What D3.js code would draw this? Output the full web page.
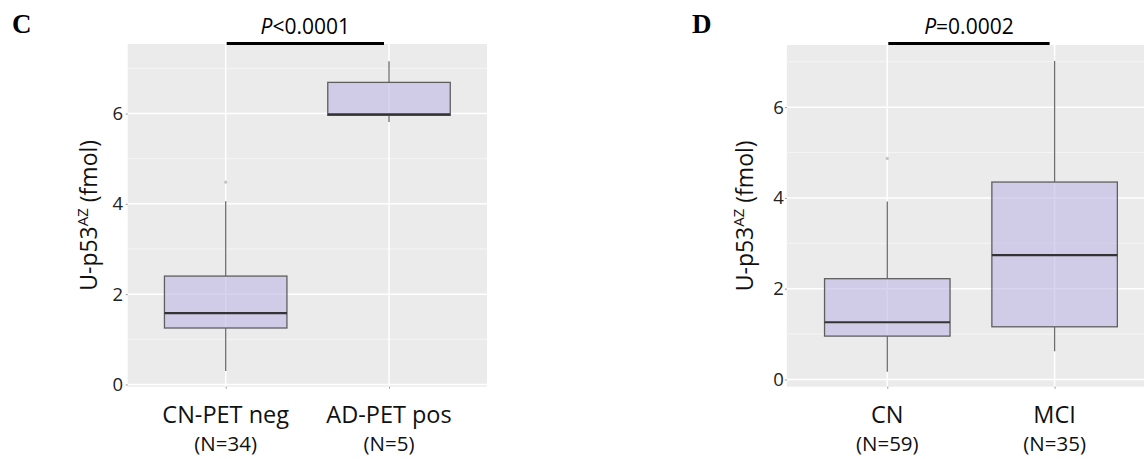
<!DOCTYPE html>
<html>
<head>
<meta charset="utf-8">
<script src="https://cdn.jsdelivr.net/npm/d3@7"></script>
<style>
  body { margin: 0; background: #fff; }
  svg { display: block; }
</style>
</head>
<body>
<div id="chart"></div>
<script>
// Datos panel C
const catsC = ["CN-PET neg", "AD-PET pos"];
const nC = ["(N=34)", "(N=5)"];
const lowC = [0.30, 5.81];
const q1C = [1.25, 5.96];
const medC = [1.58, 5.98];
const q3C = [2.40, 6.69];
const highC = [4.06, 7.16];
const outC = [[4.48], []];
const pC = ["P", "<0.0001"];

// Datos panel D
const catsD = ["CN", "MCI"];
const nD = ["(N=59)", "(N=35)"];
const lowD = [0.17, 0.62];
const q1D = [0.955, 1.16];
const medD = [1.26, 2.74];
const q3D = [2.22, 4.35];
const highD = [3.92, 7.02];
const outD = [[4.87], []];
const pD = ["P", "=0.0002"];

const yTicks = [0, 2, 4, 6];
const yMinor = [1, 3, 5, 7];

const W = 1144, H = 459;
const svg = d3.select("#chart").append("svg")
    .attr("width", W).attr("height", H);
svg.append("rect").attr("width", W).attr("height", H).attr("fill", "white");

// clip para que el panel D se corte en el borde
svg.append("defs").append("clipPath").attr("id", "clipAll")
    .append("rect").attr("width", W).attr("height", H);

const font = "'Open Sans', 'Noto Sans', sans-serif";

function drawPanel(p) {
    const x = d3.scalePoint().domain(p.cats).range([p.x0, p.x1]).padding(0.6);
    const y = d3.scaleLinear().domain(p.yDomain).range([p.y1, p.y0]);
    const bw = x.step() * 0.75;

    const g = svg.append("g").attr("clip-path", "url(#clipAll)");

    // fondo gris
    g.append("rect")
        .attr("x", p.x0).attr("y", p.y0)
        .attr("width", p.x1 - p.x0).attr("height", p.y1 - p.y0)
        .attr("fill", "#ebebeb");

    // rejilla menor
    g.selectAll(".minor").data(yMinor).enter().append("line")
        .attr("x1", p.x0).attr("x2", p.x1)
        .attr("y1", d => y(d)).attr("y2", d => y(d))
        .attr("stroke", "#f5f5f5").attr("stroke-width", 1);

    // rejilla mayor
    g.selectAll(".major").data(yTicks).enter().append("line")
        .attr("x1", p.x0).attr("x2", p.x1)
        .attr("y1", d => y(d)).attr("y2", d => y(d))
        .attr("stroke", "#ffffff").attr("stroke-width", 1.5);
    g.selectAll(".vmajor").data(p.cats).enter().append("line")
        .attr("x1", d => x(d)).attr("x2", d => x(d))
        .attr("y1", p.y0).attr("y2", p.y1)
        .attr("stroke", "#ffffff").attr("stroke-width", 1.5);

    p.cats.forEach((c, i) => {
        const cx = x(c);
        // bigotes
        g.append("line")
            .attr("x1", cx).attr("x2", cx)
            .attr("y1", y(p.high[i])).attr("y2", y(p.q3[i]))
            .attr("stroke", "#6e6e6e").attr("stroke-width", 1.3);
        g.append("line")
            .attr("x1", cx).attr("x2", cx)
            .attr("y1", y(p.q1[i])).attr("y2", y(p.low[i]))
            .attr("stroke", "#6e6e6e").attr("stroke-width", 1.3);

        // caja
        g.append("rect")
            .attr("x", cx - bw / 2).attr("y", y(p.q3[i]))
            .attr("width", bw).attr("height", y(p.q1[i]) - y(p.q3[i]))
            .attr("fill", "rgb(190,184,230)").attr("fill-opacity", 0.6)
            .attr("stroke", "#5f5f5f").attr("stroke-width", 1.3);

        // mediana
        g.append("line")
            .attr("x1", cx - bw / 2).attr("x2", cx + bw / 2)
            .attr("y1", y(p.med[i])).attr("y2", y(p.med[i]))
            .attr("stroke", "#333").attr("stroke-width", 2.2);

        // atípicos
        g.selectAll(null).data(p.out[i]).enter().append("circle")
            .attr("cx", cx).attr("cy", d => y(d)).attr("r", 1.6)
            .attr("fill", "#c4c4c4");
    });

    // eje Y
    const yAxis = svg.append("g")
        .attr("transform", `translate(${p.x0},0)`)
        .call(d3.axisLeft(y).tickValues(yTicks).tickSize(2).tickPadding(p.tickPad));
    yAxis.select(".domain").remove();
    yAxis.selectAll("line").attr("stroke", "#999");
    yAxis.selectAll("text")
        .style("font-family", font).style("font-size", "18.5px").attr("fill", "#222");

    // eje X
    const xAxis = svg.append("g")
        .attr("transform", `translate(0,${p.y1})`)
        .call(d3.axisBottom(x).tickSize(2).tickFormat(""));
    xAxis.select(".domain").remove();
    xAxis.selectAll("line").attr("stroke", "#999");

    p.cats.forEach((c, i) => {
        svg.append("text")
            .attr("x", x(c)).attr("y", 423)
            .attr("text-anchor", "middle")
            .style("font-family", font).style("font-size", "23.5px")
            .attr("fill", "#111")
            .text(c);
        svg.append("text")
            .attr("x", x(c)).attr("y", 451)
            .attr("text-anchor", "middle")
            .style("font-family", font).style("font-size", "20.5px")
            .attr("fill", "#111")
            .text(p.n[i]);
    });

    // título eje Y
    const t = svg.append("text")
        .attr("transform", `translate(${p.titleX},${(p.y0 + p.y1) / 2}) rotate(-90)`)
        .attr("text-anchor", "middle")
        .style("font-family", font).style("font-size", "23px")
        .attr("fill", "#111");
    t.append("tspan").text("U-p53");
    t.append("tspan").attr("dy", -9).style("font-size", "15px").text("AZ");
    t.append("tspan").attr("dy", 9).text(" (fmol)");

    // barra de significancia
    svg.append("line")
        .attr("x1", x(p.cats[0]) + 1).attr("x2", x(p.cats[1]) - 5)
        .attr("y1", 43.5).attr("y2", 43.5)
        .attr("stroke", "#000").attr("stroke-width", 3);
    const pt = svg.append("text")
        .attr("x", (x(p.cats[0]) + x(p.cats[1])) / 2 - 2).attr("y", 34)
        .attr("text-anchor", "middle")
        .style("font-family", font).style("font-size", "21px")
        .attr("fill", "#000");
    pt.append("tspan").style("font-style", "italic").text(p.pLabel[0]);
    pt.append("tspan").text(p.pLabel[1]);

    // letra del panel
    svg.append("text")
        .attr("x", p.letterX).attr("y", 33)
        .style("font-family", "'Liberation Serif', 'Times New Roman', serif")
        .style("font-size", "27px").style("font-weight", "bold")
        .text(p.letter);
}

drawPanel({
    letter: "C", letterX: 12,
    cats: catsC, n: nC, low: lowC, q1: q1C, med: medC, q3: q3C, high: highC, out: outC,
    pLabel: pC, yDomain: [-0.05, 7.54],
    x0: 127.7, x1: 487, y0: 44, y1: 386.7, tickPad: 2.5, titleX: 97
});

drawPanel({
    letter: "D", letterX: 692,
    cats: catsD, n: nD, low: lowD, q1: q1D, med: medD, q3: q3D, high: highD, out: outD,
    pLabel: pD, yDomain: [-0.16, 7.37],
    x0: 786.9, x1: 1155, y0: 45, y1: 386.7, tickPad: 1, titleX: 753
});
</script>
</body>
</html>
